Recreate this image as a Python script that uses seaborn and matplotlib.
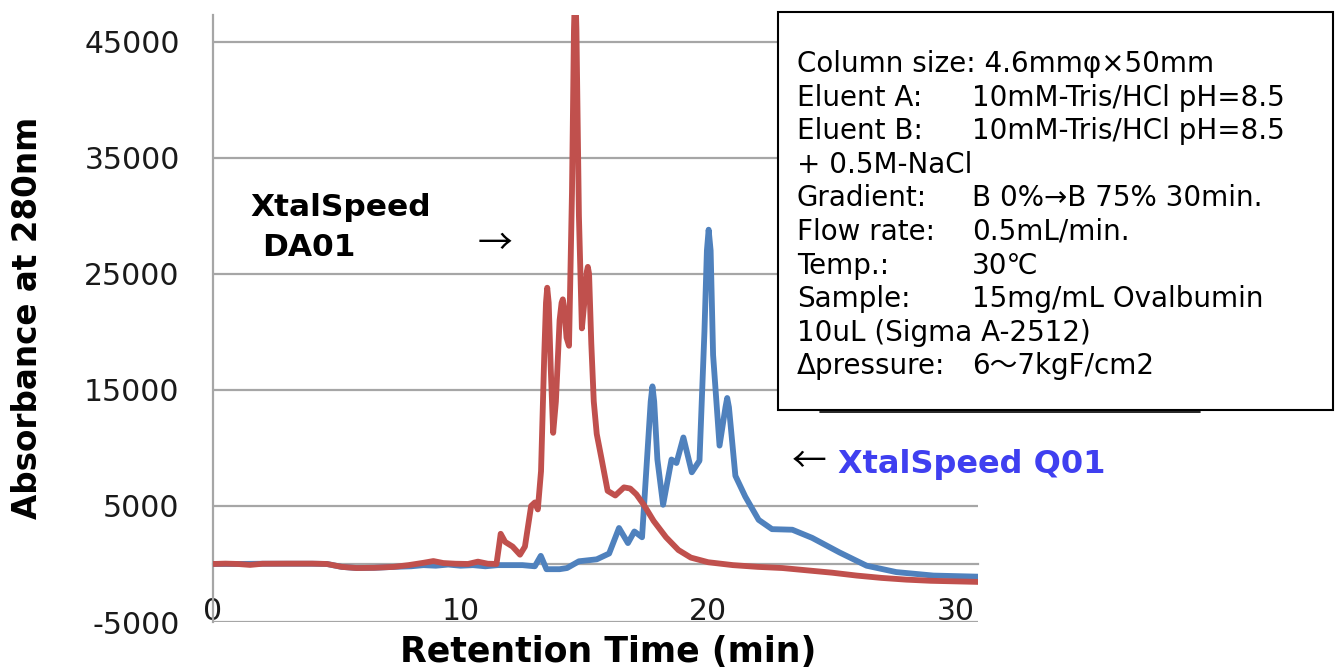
import matplotlib
matplotlib.use("Agg")
import matplotlib.pyplot as plt
import seaborn as sns
import pandas as pd
from matplotlib.patches import Rectangle
from matplotlib.lines import Line2D

# DA01 trace (red)
da01_time = [0.0, 0.5, 1.0, 1.5, 2.0, 3.0, 4.0, 4.6, 5.2, 5.8, 6.5, 7.3, 7.9, 8.5, 8.9, 9.3,
             9.8, 10.3, 10.7, 11.1, 11.45, 11.55, 11.62, 11.8, 12.1, 12.4, 12.6, 12.85, 13.0,
             13.12, 13.25, 13.38, 13.45, 13.5, 13.56, 13.64, 13.74, 13.85, 14.0, 14.08, 14.13,
             14.19, 14.28, 14.38, 14.5, 14.58, 14.63, 14.68, 14.78, 14.9, 15.02, 15.1, 15.14,
             15.19, 15.28, 15.38, 15.5, 15.7, 15.94, 16.25, 16.6, 16.85, 17.1, 17.4, 17.8,
             18.3, 18.8, 19.3, 20.0, 21.0, 22.0, 23.0, 24.0, 25.0, 26.0, 27.0, 28.0, 29.0,
             30.0, 31.0]
da01_abs = [0, 30, 0, -80, 20, 30, 30, 0, -250, -350, -330, -250, -100, 100, 250, 80,
            20, 0, 200, 20, 0, 1500, 2600, 1900, 1500, 800, 1500, 5000, 5300,
            4700, 8000, 18000, 22500, 23800, 22500, 17000, 11300, 14000, 21000, 22500, 22800,
            22000, 19500, 18800, 32000, 46000, 50000, 46000, 30000, 20300, 23000, 25200, 25600,
            25000, 19000, 14000, 11200, 9000, 6300, 5900, 6600, 6500, 6000, 5100, 3700,
            2300, 1200, 550, 150, -100, -250, -350, -550, -750, -1000, -1200, -1350, -1450,
            -1500, -1550]

# Q01 trace (blue)
q01_time = [0.0, 1.0, 2.0, 3.0, 4.0, 4.6, 5.2, 5.8, 6.5, 7.3, 8.0, 8.5, 9.0, 9.5, 10.0,
            10.5, 11.0, 11.5, 12.0, 12.5, 13.0, 13.24, 13.47, 14.0, 14.3, 14.78, 15.5, 16.0,
            16.4, 16.76, 17.02, 17.33, 17.5, 17.68, 17.75, 17.82, 17.95, 18.18, 18.52, 18.72,
            19.0, 19.34, 19.65, 19.85, 19.95, 20.02, 20.1, 20.2, 20.46, 20.7, 20.77, 20.84,
            21.1, 21.5, 22.04, 22.58, 23.4, 24.2, 25.3, 26.4, 27.6, 29.1, 31.0]
q01_abs = [0, 0, 20, 20, 20, 0, -250, -350, -330, -250, -200, -100, -150, -50, -150,
           -100, -200, -100, -100, -100, -200, 700, -450, -450, -350, 230, 400, 900,
           3100, 1800, 2800, 2300, 8000, 14000, 15300, 14000, 9000, 5100, 9000, 8700,
           10900, 7900, 8900, 20000, 27000, 28800, 27000, 18000, 10200, 13500, 14300, 13500,
           7600, 5800, 3800, 3000, 2950, 2250, 1000, -150, -700, -1000, -1100]

y_ticks = [-5000, 5000, 15000, 25000, 35000, 45000]
x_ticks = [0, 10, 20, 30]

conditions = [
    ("Column size: 4.6mmφ×50mm", ""),
    ("Eluent A:", "10mM-Tris/HCl pH=8.5"),
    ("Eluent B:", "10mM-Tris/HCl pH=8.5"),
    ("+ 0.5M-NaCl", ""),
    ("Gradient:", "B 0%→B 75% 30min."),
    ("Flow rate:", "0.5mL/min."),
    ("Temp.:", "30℃"),
    ("Sample:", "15mg/mL Ovalbumin"),
    ("10uL (Sigma A-2512)", ""),
    ("Δpressure:", "6～7kgF/cm2"),
]

sns.set_style("white")
plt.rcParams["font.family"] = ["DejaVu Sans", "Noto Sans CJK JP"]
plt.rcParams["text.color"] = "black"

W, H = 1336, 671
fig = plt.figure(figsize=(W / 100, H / 100), dpi=100)
ax = fig.add_axes([213 / W, 1 - 622 / H, (978 - 213) / W, (622 - 15) / H])

red = "#c0504d"
blue = "#4f81bd"
grid = "#a6a6a6"

df_q = pd.DataFrame({"t": q01_time, "a": q01_abs})
df_d = pd.DataFrame({"t": da01_time, "a": da01_abs})
sns.lineplot(data=df_q, x="t", y="a", color=blue, lw=4.2, estimator=None, ax=ax,
             solid_joinstyle="round", solid_capstyle="round", zorder=3)
sns.lineplot(data=df_d, x="t", y="a", color=red, lw=4.2, estimator=None, ax=ax,
             solid_joinstyle="round", solid_capstyle="round", zorder=4)

ax.set_xlim(0, 30.9)
ax.set_ylim(-5000, 47300)
ax.set_yticks(y_ticks)
ax.set_yticklabels([str(v) for v in y_ticks])
ax.set_xticks(x_ticks)
ax.set_xticklabels([str(v) for v in x_ticks])

ax.grid(axis="y", color=grid, lw=1.6)
ax.set_axisbelow(True)
for s in ["top", "right"]:
    ax.spines[s].set_visible(False)
ax.spines["bottom"].set_position(("data", 0))
ax.spines["bottom"].set_color(grid)
ax.spines["bottom"].set_linewidth(1.6)
ax.spines["left"].set_color(grid)
ax.spines["left"].set_linewidth(1.6)

ax.tick_params(axis="y", direction="out", length=8, width=1.6, color=grid,
               labelsize=21.5, labelcolor="#1a1a1a", pad=16)
ax.tick_params(axis="x", direction="out", length=8, width=1.6, color=grid,
               labelsize=21.5, labelcolor="#1a1a1a", pad=16)

ax.set_xlabel("Retention Time (min)", fontsize=25, fontweight="bold", color="black")
ax.set_ylabel("Absorbance at 280nm", fontsize=23.5, fontweight="bold", color="black")
ax.xaxis.label.set_va("center")
ax.yaxis.label.set_va("center")
ax.xaxis.set_label_coords((608 - 213) / (978 - 213), -(652 - 622) / (622 - 15))
ax.yaxis.set_label_coords(-(213 - 28) / (978 - 213), (622 - 318) / (622 - 15))

# curve labels
arrow_font = ["Noto Sans CJK JP", "DejaVu Sans"]
fig.text(250 / W, 1 - 208 / H, "XtalSpeed", fontsize=22.5, fontweight="bold",
         ha="left", va="center")
fig.text(262 / W, 1 - 248 / H, "DA01", fontsize=22.5, fontweight="bold",
         ha="left", va="center")
fig.text(478 / W, 1 - 245 / H, "→", fontsize=25, family=arrow_font, ha="left", va="center")
fig.text(792 / W, 1 - 463 / H, "←", fontsize=25, family=arrow_font, ha="left", va="center")
fig.text(838 / W, 1 - 465 / H, "XtalSpeed Q01", fontsize=23, fontweight="bold",
         color="#3f3ff0", ha="left", va="center")

# conditions box
fig.add_artist(Rectangle((778 / W, 1 - 410 / H), (1333 - 778) / W, (410 - 12) / H,
                         transform=fig.transFigure, facecolor="white",
                         edgecolor="black", lw=1.5, zorder=5))
fig.add_artist(Line2D([820 / W, 1200 / W], [1 - 411.5 / H, 1 - 411.5 / H],
                      transform=fig.transFigure, color="black", lw=1.2, zorder=5))
for i, (label, value) in enumerate(conditions):
    y = 1 - (64 + i * 33.6) / H
    fig.text(797 / W, y, label, fontsize=20, ha="left", va="center", zorder=6)
    if value:
        fig.text(972 / W, y, value, fontsize=20, ha="left", va="center", zorder=6)

fig.savefig("out.png", dpi=100)
